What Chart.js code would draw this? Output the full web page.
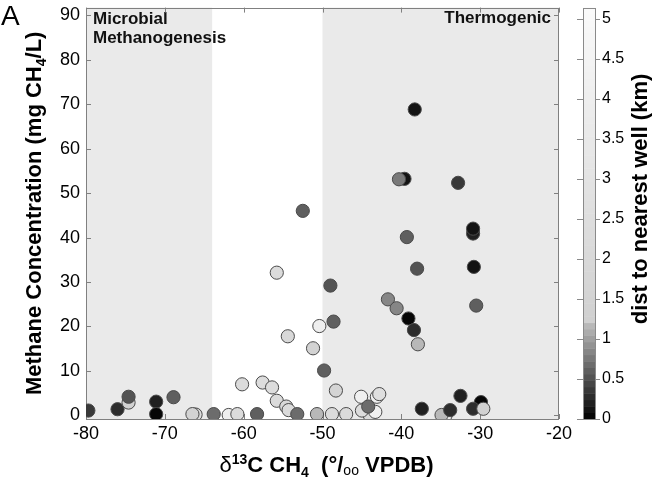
<!DOCTYPE html>
<html><head><meta charset="utf-8">
<script src="https://cdn.jsdelivr.net/npm/chart.js@4.4.1/dist/chart.umd.min.js"></script>
<style>html,body{margin:0;padding:0;background:#fff;}canvas{display:block;}</style>
</head><body>
<canvas id="c" width="652" height="479"></canvas>
<script>
// ---- data ----
const d13C = [-79.7,-76.0,-74.6,-74.6,-71.1,-71.1,-68.9,-66.1,-66.5,-63.8,-61.9,-60.8,-60.2,-58.3,-57.6,-56.4,-55.8,-55.8,-54.6,-54.3,-54.4,-53.2,-52.5,-51.2,-50.7,-50.4,-49.8,-49.0,-48.8,-48.6,-48.3,-47.0,-44.0,-45.0,-43.3,-45.1,-43.1,-42.8,-44.2,-41.7,-40.6,-39.3,-39.1,-38.4,-38.0,-37.9,-37.4,-34.4,-34.9,-33.8,-32.5,-30.9,-30.9,-30.8,-30.5,-29.9,-30.9,-29.6,-38.3,-39.6,-40.3,-32.8];
const methane = [1.1,1.4,2.9,4.2,3.1,0.3,4.1,0.2,0.3,0.3,0.1,0.3,7.0,0.3,7.4,6.3,3.3,32.1,2.0,1.2,17.8,0.3,46.0,15.1,0.3,20.1,10.1,29.2,0.3,21.1,5.6,0.3,0.0,1.1,0.8,4.2,4.2,4.8,2.0,26.1,24.1,40.1,21.8,19.2,33.0,16.0,1.5,0.0,0.1,1.2,4.4,40.9,42.0,33.4,24.7,3.0,1.5,1.5,68.8,53.2,53.1,52.3];
const distKm = [0.4,0.3,1.3,0.5,0.2,0.08,0.6,2.2,1.5,0.72,4.0,2.2,2.2,0.6,2.4,2.4,2.2,2.2,2.0,2.2,2.0,0.72,0.6,1.5,1.15,4.0,0.6,0.55,2.2,0.6,1.6,2.2,2.2,2.4,4.2,4.2,4.2,2.6,0.72,0.85,0.85,0.6,0.08,0.3,0.5,1.15,0.2,4.0,1.15,0.3,0.2,0.2,0.1,0.15,0.6,0.03,0.3,1.3,0.1,0.1,0.75,0.35];

const xTicks = [-80,-70,-60,-50,-40,-30,-20];
const yTicks = [0,10,20,30,40,50,60,70,80,90];
const cbTicks = [0,0.5,1,1.5,2,2.5,3,3.5,4,4.5,5];

const regionStart = [-80,-50];
const regionEnd = [-64,-20];
const regionLabels = [['Microbial','Methanogenesis'],['Thermogenic']];

const xTitle = ['δ','13','C CH','4','  (°/','oo',' VPDB)'];
const yTitle = ['Methane Concentration (mg CH','4','/L)'];
const cbTitle = 'dist to nearest well (km)';
const panelLabel = 'A';

// colormap (gray, stepped)
const cmapPos = [0,1.2,1.2,5.14];
const cmapGray = [0,190,208,250];
const CB_MIN = 0, CB_MAX = 5.14, CB_LEVELS = 64;

const FONT = '"Liberation Sans", Arial, Helvetica, sans-serif';

function grayAt(v){
  for(let i=0;i<cmapPos.length-1;i++){
    const a=cmapPos[i], b=cmapPos[i+1];
    if(b>a && v<=b){ const t=Math.max(0,(v-a)/(b-a)); return cmapGray[i]+t*(cmapGray[i+1]-cmapGray[i]); }
  }
  return cmapGray[cmapGray.length-1];
}
function colorFor(d){
  const idx=Math.min(CB_LEVELS-1,Math.max(0,Math.floor((d-CB_MIN)/(CB_MAX-CB_MIN)*CB_LEVELS)));
  const mid=CB_MIN+(idx+0.5)*(CB_MAX-CB_MIN)/CB_LEVELS;
  const g=Math.round(grayAt(mid));
  return 'rgb('+g+','+g+','+g+')';
}

function drawRich(ctx, segs, x, y){
  // segs: [text, size, bold, dy]
  let total=0;
  const w=segs.map(s=>{ctx.font=(s[2]?'bold ':'')+s[1]+'px '+FONT; const m=ctx.measureText(s[0]).width; total+=m; return m;});
  let cx=x-total/2;
  ctx.textAlign='left'; ctx.textBaseline='alphabetic';
  segs.forEach((s,i)=>{ctx.font=(s[2]?'bold ':'')+s[1]+'px '+FONT; ctx.fillText(s[0],cx,y+(s[3]||0)); cx+=w[i];});
}

function zeroPad(s){ s.paddingTop=0; s.paddingBottom=0; s.paddingLeft=0; s.paddingRight=0; }

const decor = {
  id:'decor',
  beforeDatasetsDraw(chart){
    const {ctx, chartArea:a} = chart; const xs=chart.scales.x, ys=chart.scales.y;
    ctx.save();
    // shaded regions
    ctx.fillStyle='#eaeaea';
    regionStart.forEach((r,i)=>{
      const x0=xs.getPixelForValue(r), x1=xs.getPixelForValue(regionEnd[i]);
      ctx.fillRect(x0,a.top,x1-x0,a.bottom-a.top);
    });
    // region labels
    ctx.fillStyle='#111'; ctx.font='bold 17px '+FONT; ctx.textBaseline='alphabetic';
    ctx.textAlign='left';
    regionLabels[0].forEach((t,i)=>ctx.fillText(t,xs.getPixelForValue(regionStart[0])+7,24+i*18.5));
    ctx.textAlign='right';
    regionLabels[1].forEach((t,i)=>ctx.fillText(t,xs.getPixelForValue(regionEnd[1])-8,23+i*18.5));
    // box
    ctx.strokeStyle='#808080'; ctx.lineWidth=1;
    ctx.strokeRect(Math.round(a.left)+0.5,Math.round(a.top)+0.5,Math.round(a.right-a.left)-1,Math.round(a.bottom-a.top));
    // inward ticks
    ctx.beginPath();
    xTicks.forEach(v=>{const px=Math.round(xs.getPixelForValue(v))+0.5; ctx.moveTo(px,a.bottom); ctx.lineTo(px,a.bottom-5); ctx.moveTo(px,a.top); ctx.lineTo(px,a.top+5);});
    yTicks.forEach(v=>{const py=Math.round(ys.getPixelForValue(v))+0.5; ctx.moveTo(a.left,py); ctx.lineTo(a.left+5,py); ctx.moveTo(a.right,py); ctx.lineTo(a.right-5,py);});
    ctx.stroke();
    ctx.restore();
  },
  afterDraw(chart){
    const {ctx, chartArea:a} = chart; const cb=chart.scales.cb;
    ctx.save();
    // colorbar
    const x0=cb.left+24, x1=cb.left+37;
    for(let i=0;i<CB_LEVELS;i++){
      const v0=CB_MIN+i*(CB_MAX-CB_MIN)/CB_LEVELS, v1=CB_MIN+(i+1)*(CB_MAX-CB_MIN)/CB_LEVELS;
      const y0=cb.getPixelForValue(v0), y1=cb.getPixelForValue(v1);
      ctx.fillStyle=colorFor((v0+v1)/2);
      ctx.fillRect(x0,y1,x1-x0,y0-y1+0.5);
    }
    ctx.strokeStyle='#8a8a8a'; ctx.lineWidth=1;
    const yt=cb.getPixelForValue(CB_MAX), yb=cb.getPixelForValue(CB_MIN);
    ctx.strokeRect(x0+0.5,Math.round(yt)+0.5,x1-x0-1,Math.round(yb-yt));
    ctx.beginPath();
    cbTicks.forEach(v=>{const py=Math.round(cb.getPixelForValue(v))+0.5; ctx.moveTo(x0-6,py); ctx.lineTo(x0,py); ctx.moveTo(x1,py); ctx.lineTo(x1+4,py);});
    ctx.stroke();
    // titles
    ctx.fillStyle='#000';
    drawRich(ctx,[[xTitle[0],22,false,0],[xTitle[1],14,true,-8],[xTitle[2],22,true,0],[xTitle[3],14,true,5],[xTitle[4],22,true,0],[xTitle[5],14,false,3],[xTitle[6],22,true,0]],(a.left+a.right)/2+4,472);
    ctx.save(); ctx.translate(41,(a.top+a.bottom)/2); ctx.rotate(-Math.PI/2);
    drawRich(ctx,[[yTitle[0],22,true,0],[yTitle[1],14,true,5],[yTitle[2],22,true,0]],0,0);
    ctx.restore();
    ctx.save(); ctx.translate(647,199); ctx.rotate(-Math.PI/2);
    drawRich(ctx,[[cbTitle,22,true,0]],0,0);
    ctx.restore();
    ctx.font='28px '+FONT; ctx.textAlign='left'; ctx.textBaseline='alphabetic';
    ctx.fillText(panelLabel,1,25);
    ctx.restore();
  }
};

new Chart(document.getElementById('c').getContext('2d'),{
  type:'scatter',
  data:{datasets:[{
    data:d13C.map((x,i)=>({x:x,y:methane[i]})),
    pointRadius:6.6, pointHoverRadius:6.6,
    pointBackgroundColor:distKm.map(colorFor),
    pointBorderColor:'#4a4a4a', pointBorderWidth:1
  }]},
  options:{
    responsive:false, animation:false, devicePixelRatio:1,
    layout:{padding:{top:7,left:0,right:0,bottom:0}},
    plugins:{legend:{display:false},tooltip:{enabled:false}},
    scales:{
      x:{type:'linear',min:-80,max:-20,grid:{display:false,drawTicks:false},border:{display:false},
         ticks:{font:{family:FONT,size:18},color:'#000',padding:4,autoSkip:false,maxRotation:0,callback:v=>String(v)},
         afterBuildTicks:s=>{s.ticks=xTicks.map(v=>({value:v}));},
         afterFit:s=>{s.height=60; zeroPad(s);}},
      y:{type:'linear',position:'left',min:-0.8,max:91.7,grid:{display:false,drawTicks:false},border:{display:false},
         ticks:{font:{family:FONT,size:18},color:'#000',padding:6,autoSkip:false,callback:v=>String(v)},
         afterBuildTicks:s=>{s.ticks=yTicks.map(v=>({value:v}));},
         afterFit:s=>{s.width=86; zeroPad(s);}},
      cb:{type:'linear',position:'right',min:CB_MIN,max:CB_MAX,grid:{display:false,drawTicks:false},border:{display:false},
         ticks:{font:{family:FONT,size:16},color:'#000',padding:43,autoSkip:false,callback:v=>String(v)},
         afterBuildTicks:s=>{s.ticks=cbTicks.map(v=>({value:v}));},
         afterFit:s=>{s.width=93; zeroPad(s);}}
    }
  },
  plugins:[decor]
});
</script>
</body></html>
